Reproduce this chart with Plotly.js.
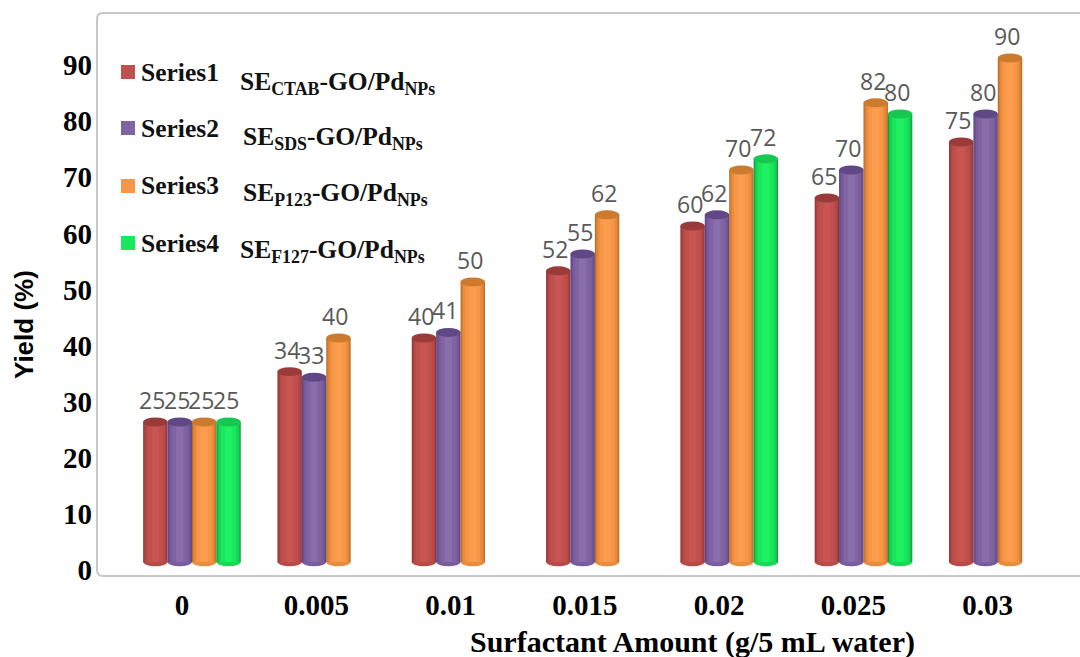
<!DOCTYPE html>
<html><head><meta charset="utf-8">
<script src="https://cdn.plot.ly/plotly-3.0.1.min.js"></script>
<style>html,body{margin:0;padding:0;background:#fff}</style></head>
<body><div id="chart" style="width:1080px;height:657px"></div>
<script>
const categories = ["0","0.005","0.01","0.015","0.02","0.025","0.03"];
const series1 = [25,34,40,52,60,65,75];
const series2 = [25,33,41,55,62,70,80];
const series3 = [25,40,50,62,70,82,90];
const series4 = [25,null,null,null,72,80,null];
const seriesNames = ["Series1","Series2","Series3","Series4"];
const surfactantLabels = [
  "SE<sub>CTAB</sub>-GO/Pd<sub>NPs</sub>",
  "SE<sub>SDS</sub>-GO/Pd<sub>NPs</sub>",
  "SE<sub>P123</sub>-GO/Pd<sub>NPs</sub>",
  "SE<sub>F127</sub>-GO/Pd<sub>NPs</sub>"];
const yTicks = [0,10,20,30,40,50,60,70,80,90];
const xTitle = "Surfactant Amount (g/5 mL water)";
const yTitle = "Yield (%)";

const allSeries = [series1,series2,series3,series4];
// cylinder shading: outer to inner
const shades = [
  ["#8f3735","#a84240","#b84b48","#c0504d","#c95552"],
  ["#5c4382","#6e5194","#795c9d","#8064a2","#8a6eac"],
  ["#b56c29","#d67f33","#ea8c3e","#f79646","#fb9d4e"],
  ["#10a03f","#14c24c","#18d856","#1ae85c","#20f064"]];
const swatchColors = ["#c0504d","#8064a2","#f79646","#1ae85c"];
const capColors = ["#9a3b39","#604886","#cc7a2e","#17c850"];
const shadeFractions = [1,0.92,0.8,0.62,0.3];
const barWidth = 0.1817;

const L=97,T=13,R=1080,B=576;
const px = x => (x-L)/(R-L), py = y => (B-y)/(B-T);

const traces = [];
traces.push({x:categories,y:series1,type:"scatter",mode:"markers",marker:{opacity:0},showlegend:false,hoverinfo:"skip",xaxis:"x",yaxis:"y"});
allSeries.forEach((vals,s)=>{
  const start = -2*barWidth + s*barWidth;
  shadeFractions.forEach((f,k)=>{
    const w = barWidth*f;
    traces.push({
      type:"bar",x:categories,y:vals,xaxis:"x2",yaxis:"y2",
      name:seriesNames[s],showlegend:false,
      width:w,offset:start+(barWidth-w)/2,
      marker:{color:shades[s][k],line:{width:0}},
      hoverinfo:k===0?"x+y+name":"skip"
    });
  });
});

const shapes=[], annotations=[];
const rx=6/(R-L), ry=6/(B-T);
shapes.push({type:"path",xref:"paper",yref:"paper",layer:"below",line:{color:"#c8c8c8",width:2},
  path:`M 1,1 L ${rx},1 Q 0,1 0,${1-ry} L 0,${ry} Q 0,0 ${rx},0 L 1,0`});
const capHalf=0.8, baseHalf=0.75;
allSeries.forEach((vals,s)=>{
  const start = -2*barWidth + s*barWidth;
  vals.forEach((v,i)=>{
    if(v===null) return;
    const x0=i+start, x1=x0+barWidth;
    shapes.push({type:"circle",xref:"x2",yref:"y2",x0,x1,y0:-baseHalf,y1:baseHalf,layer:"below",fillcolor:shades[s][2],line:{width:0}});
    shapes.push({type:"circle",xref:"x2",yref:"y2",x0,x1,y0:v-capHalf,y1:v+capHalf,layer:"above",fillcolor:capColors[s],line:{width:0}});
    annotations.push({xref:"x2",yref:"y2",x:(x0+x1)/2,y:v,yshift:22,xshift:-3,text:String(v),showarrow:false,
      font:{family:"Open Sans, sans-serif",size:23,color:"#595959"}});
  });
});
const serif="Liberation Serif, serif";
const labelPos=[[238,83],[241,138],[241,194],[238,251]];
const legendRows=[72,128,186,243];
seriesNames.forEach((n,i)=>{
  const y=legendRows[i];
  shapes.push({type:"rect",xref:"paper",yref:"paper",x0:px(121),x1:px(135),y0:py(y+7),y1:py(y-7),fillcolor:swatchColors[i],line:{width:0},layer:"above"});
  annotations.push({xref:"paper",yref:"paper",x:px(139),y:py(y),xanchor:"left",yanchor:"middle",text:"<b>"+n+"</b>",showarrow:false,
    font:{family:serif,size:25.5,color:"#111"}});
  annotations.push({xref:"paper",yref:"paper",x:px(labelPos[i][0]),y:py(labelPos[i][1]),xanchor:"left",yanchor:"middle",
    text:"<b>"+surfactantLabels[i]+"</b>",showarrow:false,font:{family:serif,size:25.5,color:"#111"}});
});
annotations.push({xref:"paper",yref:"paper",x:px(692),y:py(642),xanchor:"center",yanchor:"middle",text:"<b>"+xTitle+"</b>",showarrow:false,
  font:{family:serif,size:30,color:"#000"}});
annotations.push({xref:"paper",yref:"paper",x:px(24),y:py(325),xanchor:"center",yanchor:"middle",textangle:-90,text:"<b>"+yTitle+"</b>",showarrow:false,
  font:{family:"Liberation Sans, sans-serif",size:26,color:"#000"}});

const layout={
  width:1080,height:657,
  margin:{l:L,r:0,t:T,b:657-B,pad:0},
  paper_bgcolor:"#fff",plot_bgcolor:"#fff",
  barmode:"overlay",showlegend:false,
  xaxis:{type:"category",categoryarray:categories,categoryorder:"array",range:[-0.633,6.687],
    showgrid:false,zeroline:false,showline:false,ticks:"",
    ticklabelstandoff:9,
    tickfont:{family:serif,size:29,color:"#000",weight:700}},
  yaxis:{range:[-1.07,99.29],tickmode:"array",tickvals:yTicks,showgrid:false,zeroline:false,showline:false,ticks:"",
    ticklabelstandoff:4,
    tickfont:{family:serif,size:29,color:"#000",weight:700}},
  xaxis2:{type:"category",categoryarray:categories,categoryorder:"array",overlaying:"x",range:[-0.707,6.612],visible:false},
  yaxis2:{overlaying:"y",range:[-2.5,98.04],visible:false},
  shapes,annotations
};
Plotly.newPlot("chart",traces,layout,{displayModeBar:false});
</script></body></html>
